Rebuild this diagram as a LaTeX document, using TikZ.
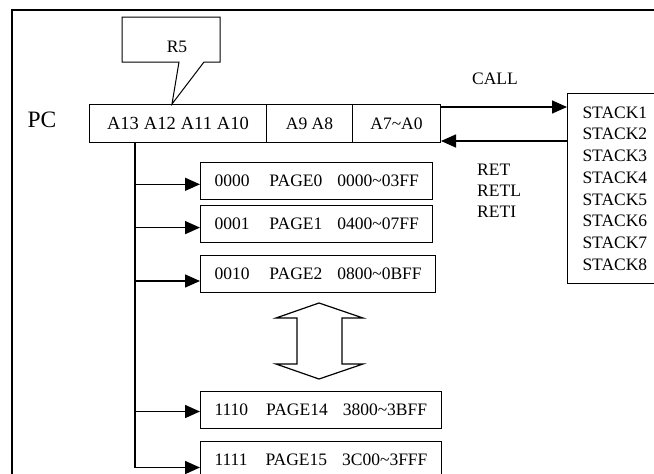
\documentclass[tikz,border=0pt]{standalone}
\usepackage{fontspec}
\setmainfont{Liberation Serif}
\usetikzlibrary{arrows.meta,positioning}

\tikzset{
    txt/.style={font=\fontsize{17.5}{21.7}\selectfont},
    cell/.style={draw, line width=1pt, txt, inner sep=0pt, minimum height=38pt, anchor=north west},
    pagebox/.style={draw, line width=1pt, txt, inner xsep=14pt, inner ysep=0pt, minimum height=37pt, anchor=north west},
    arr/.style={line width=1.5pt, -{Triangle[length=15pt,width=13pt]}}
}

\begin{document}
\begin{tikzpicture}[x=1pt, y=-1pt]
    \useasboundingbox (0,0) rectangle (654,474);
    \clip (0,0) rectangle (654,474);

    % outer frame (runs off the right and bottom edge)
    \draw[line width=2pt] (12,10) rectangle (690,500);

    % program counter
    \node[font=\fontsize{23.5}{28}\selectfont] (PC) at (42,120) {PC};
    \node[cell, minimum width=177pt, font=\fontsize{18.5}{22}\selectfont] (hi) at (89,104)
        {A13\hspace{5pt}A12\hspace{5pt}A11\hspace{5pt}A10};
    \node[cell, minimum width=86pt] (mid) at (266,104) {A9 A8};
    \node[cell, minimum width=88pt] (lo) at (352,104) {A7\textasciitilde A0};

    % R5 callout pointing at the high bits
    \draw[line width=1pt] (122,17) -- (220,17) -- (220,62) -- (204,62) -- (172,104)
        -- (179,62) -- (122,62) -- cycle;
    \node[txt] (R5) at (177,47) {R5};

    % stack
    \node[draw, line width=1pt, txt, align=left, inner xsep=15pt, minimum height=190pt,
        anchor=north west] (stack) at (567,93)
        {STACK1\\STACK2\\STACK3\\STACK4\\STACK5\\STACK6\\STACK7\\STACK8};

    % CALL and RET paths
    \coordinate (callstart) at ([yshift=-3pt]lo.north east);
    \coordinate (retend) at ([yshift=2pt]lo.south east);
    \draw[arr] (callstart) -- (callstart -| stack.west);
    \draw[arr] (retend -| stack.west) -- (retend);
    \node[txt] (CALL) at (495,79) {CALL};
    \node[txt, align=left, inner sep=0pt, anchor=north west,
        font=\fontsize{17.5}{21}\selectfont] (RET) at (477,164) {RET\\RETL\\RETI};

    % pages
    \node[pagebox] (p0) at (200,162) {0000\hspace{20pt}PAGE0\hspace{15pt}0000\textasciitilde 03FF};
    \node[pagebox] (p1) at (200,205) {0001\hspace{20pt}PAGE1\hspace{15pt}0400\textasciitilde 07FF};
    \node[pagebox] (p2) at (200,255) {0010\hspace{20pt}PAGE2\hspace{15pt}0800\textasciitilde 0BFF};
    \node[pagebox] (p14) at (200,391) {1110\hspace{18pt}PAGE14\hspace{15pt}3800\textasciitilde 3BFF};
    \node[pagebox] (p15) at (200,441) {1111\hspace{18pt}PAGE15\hspace{15pt}3C00\textasciitilde 3FFF};

    % page select lines
    \coordinate (trunk) at ([xshift=46pt]hi.south west);
    \draw[arr] (trunk) |- ([yshift=-7.5pt]p15.west);
    \draw[arr] ([yshift=-3.3pt]p0.west -| trunk) -- ([yshift=-3.3pt]p0.west);
    \draw[arr] ([yshift=-3.6pt]p1.west -| trunk) -- ([yshift=-3.6pt]p1.west);
    \draw[arr] ([yshift=-7pt]p2.west -| trunk) -- ([yshift=-7pt]p2.west);
    \draw[arr] ([yshift=-1.5pt]p14.west -| trunk) -- ([yshift=-1.5pt]p14.west);

    % pages in between
    \draw[line width=1.2pt] (319,303) -- (363,318) -- (342,318) -- (342,364) -- (363,364)
        -- (319,379) -- (276,364) -- (297,364) -- (297,318) -- (276,318) -- cycle;
\end{tikzpicture}
\end{document}
